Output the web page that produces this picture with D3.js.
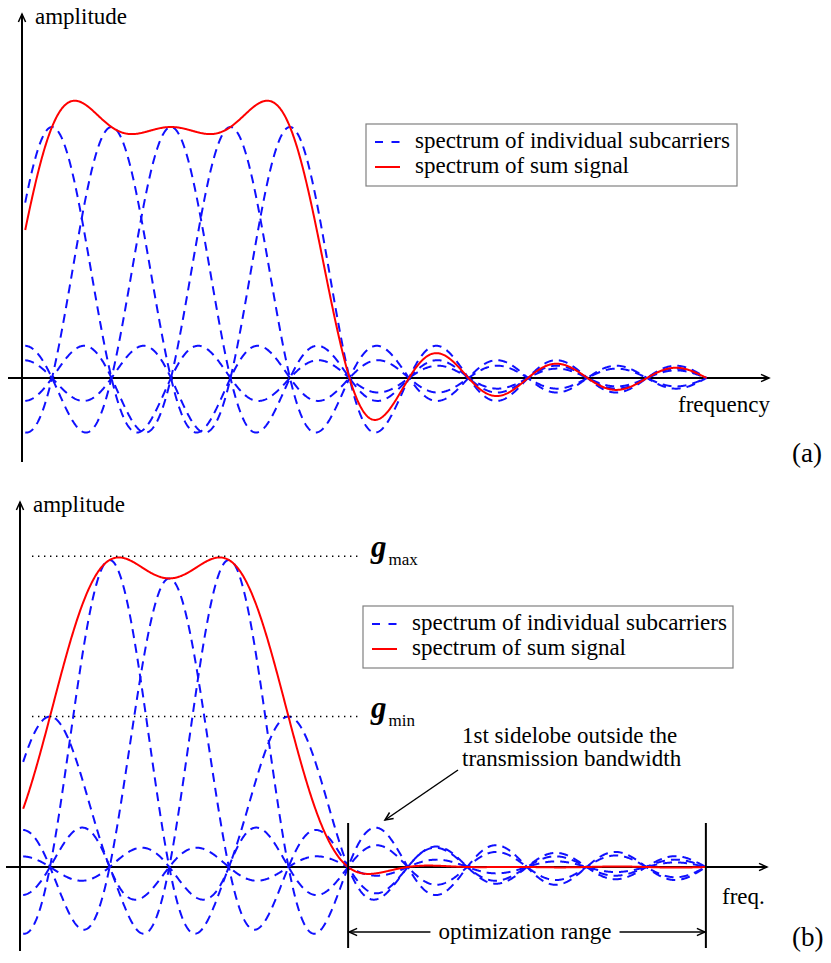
<!DOCTYPE html>
<html><head><meta charset="utf-8">
<script src="https://cdn.jsdelivr.net/npm/d3@7"></script>
<style>
body{margin:0;background:#fff}
svg text{font-family:"Liberation Serif","Times New Roman","DejaVu Serif",serif}
</style>
</head><body>
<svg id="chart" width="831" height="963"></svg>
<script>
// Subcarrier positions, in units of the subcarrier spacing
const subcarrierIndex = [0, 1, 2, 3, 4];
// Relative gain of each subcarrier: (a) unweighted, (b) weighted
const gainsPlain = [1, 1, 1, 1, 1];
const gainsWeighted = [0.49, 1, 0.94, 1, 0.49];
// Frequency span over which the spectra are drawn
const freqSpan = [-0.45, 11];
// Reference levels marked in panel (b)
const levelNames = ["max", "min"];
const levelValues = [1.012, 0.49];
// Boundaries of the optimization range (panel b)
const optRange = [5, 11];
const legendLabels = ["spectrum of individual subcarriers", "spectrum of sum signal"];

const BLUE = "#1010ff", RED = "#ff0000";

const svg = d3.select("#chart");
const defs = svg.append("defs");
defs.append("marker")
  .attr("id", "arrow").attr("viewBox", "-10 -6 12 12")
  .attr("markerUnits", "userSpaceOnUse")
  .attr("markerWidth", 12).attr("markerHeight", 12)
  .attr("refX", 0).attr("refY", 0).attr("orient", "auto-start-reverse")
  .append("path").attr("d", "M-8,-3.6 L0,0 L-8,3.6")
  .attr("fill", "none").attr("stroke", "#000").attr("stroke-width", 1.5);

// each subcarrier has a sinc-shaped spectrum
const sinc = x => Math.abs(x) < 1e-9 ? 1 : Math.sin(Math.PI * x) / (Math.PI * x);
const freqGrid = d3.range(freqSpan[0], freqSpan[1] + 1e-9, 0.01);

function drawPanel(cfg) {
  const g = svg.append("g");
  const x = d3.scaleLinear().domain([0, 4]).range(cfg.xRange);
  const y = d3.scaleLinear().domain([0, 1]).range(cfg.yRange);
  const y0 = y(0);

  // axes
  g.append("line").attr("x1", cfg.yAxisX).attr("x2", cfg.yAxisX)
    .attr("y1", cfg.yAxisBottom).attr("y2", cfg.yAxisTop)
    .attr("stroke", "#000").attr("stroke-width", 2).attr("marker-end", "url(#arrow)");
  g.append("line").attr("x1", cfg.xAxisLeft).attr("x2", cfg.xAxisRight)
    .attr("y1", y0).attr("y2", y0)
    .attr("stroke", "#000").attr("stroke-width", 2).attr("marker-end", "url(#arrow)");

  const line = d3.line().x(d => x(d[0])).y(d => y(d[1])).curve(d3.curveLinear);

  // individual subcarrier spectra
  const carriers = subcarrierIndex.map((k, i) =>
    freqGrid.map(f => [f, cfg.gains[i] * sinc(f - k)]));
  g.append("g").selectAll("path").data(carriers).join("path")
    .attr("d", line).attr("fill", "none")
    .attr("stroke", BLUE).attr("stroke-width", 2)
    .attr("stroke-dasharray", "9,6");

  // spectrum of the sum signal
  const sum = freqGrid.map(f => [f, d3.sum(subcarrierIndex, (k, i) => cfg.gains[i] * sinc(f - k))]);
  g.append("path").datum(sum).attr("d", line).attr("fill", "none")
    .attr("stroke", RED).attr("stroke-width", 2);

  // axis labels
  g.append("text").attr("x", cfg.yAxisX + 13).attr("y", cfg.yAxisTop + 10)
    .attr("font-size", 23).text("amplitude");
  g.append("text").attr("x", cfg.freqLabel[0]).attr("y", cfg.freqLabel[1])
    .attr("font-size", 23).text(cfg.freqText);
  g.append("text").attr("x", 792).attr("y", cfg.tagY)
    .attr("font-size", 27).text(cfg.tag);

  // legend
  const lg = g.append("g").attr("transform", `translate(${cfg.legend[0]},${cfg.legend[1]})`);
  lg.append("rect").attr("width", cfg.legend[2]).attr("height", 62)
    .attr("fill", "#fff").attr("stroke", "#808080").attr("stroke-width", 1.2);
  legendLabels.forEach((lab, i) => {
    const ry = 18 + i * 25;
    lg.append("line").attr("x1", 9).attr("x2", 34).attr("y1", ry).attr("y2", ry)
      .attr("stroke", i === 0 ? BLUE : RED).attr("stroke-width", 2)
      .attr("stroke-dasharray", i === 0 ? "8,8.5" : null);
    lg.append("text").attr("x", 49).attr("y", ry + 6)
      .attr("font-size", 23).text(lab);
  });
  return { g, x, y };
}

// (a) equal subcarrier gains
drawPanel({
  gains: gainsPlain, xRange: [52, 290], yRange: [378, 127],
  yAxisX: 22, yAxisTop: 14, yAxisBottom: 462, xAxisLeft: 8, xAxisRight: 769,
  freqText: "frequency", freqLabel: [678, 412], tag: "(a)", tagY: 462,
  legend: [366, 124, 371]
});

// (b) weighted edge subcarriers
const pb = drawPanel({
  gains: gainsWeighted, xRange: [50, 288.5], yRange: [867, 560],
  yAxisX: 20, yAxisTop: 502, yAxisBottom: 951, xAxisLeft: 6, xAxisRight: 767,
  freqText: "freq.", freqLabel: [722, 904], tag: "(b)", tagY: 946,
  legend: [363, 606, 370]
});

// g_max / g_min reference levels
levelNames.forEach((nm, i) => {
  const ly = pb.y(levelValues[i]);
  pb.g.append("line").attr("x1", 32).attr("x2", 358).attr("y1", ly).attr("y2", ly)
    .attr("stroke", "#000").attr("stroke-width", 1.4).attr("stroke-dasharray", "1.4,4.6");
  const t = pb.g.append("text").attr("x", 371).attr("y", ly + 1);
  t.append("tspan").attr("font-size", 31).attr("font-weight", "bold")
    .attr("font-style", "italic").text("g");
  t.append("tspan").attr("font-size", 17).attr("dx", 2).attr("dy", 8).text(nm);
});

// optimization range markers
const ox0 = pb.x(optRange[0]), ox1 = pb.x(optRange[1]);
[ox0, ox1].forEach(xv => pb.g.append("line").attr("x1", xv).attr("x2", xv)
  .attr("y1", 823).attr("y2", 948).attr("stroke", "#000").attr("stroke-width", 2));
const oy = 932;
const otext = pb.g.append("text").attr("x", (ox0 + ox1) / 2 - 2).attr("y", oy + 7)
  .attr("text-anchor", "middle").attr("font-size", 23)
  .text("optimization range");
const tb = otext.node().getBBox();
pb.g.append("line").attr("x1", tb.x - 8).attr("x2", ox0 + 1).attr("y1", oy).attr("y2", oy)
  .attr("stroke", "#000").attr("stroke-width", 1.5).attr("marker-end", "url(#arrow)");
pb.g.append("line").attr("x1", tb.x + tb.width + 8).attr("x2", ox1 - 1).attr("y1", oy).attr("y2", oy)
  .attr("stroke", "#000").attr("stroke-width", 1.5).attr("marker-end", "url(#arrow)");

// annotation of the first sidelobe outside the band
const ann = pb.g.append("text").attr("font-size", 23);
ann.append("tspan").attr("x", 462).attr("y", 743).text("1st sidelobe outside the");
ann.append("tspan").attr("x", 462).attr("y", 766).text("transmission bandwidth");
pb.g.append("line").attr("x1", 458).attr("y1", 770).attr("x2", 385).attr("y2", 820)
  .attr("stroke", "#000").attr("stroke-width", 1.5).attr("marker-end", "url(#arrow)");
</script>
</body></html>
